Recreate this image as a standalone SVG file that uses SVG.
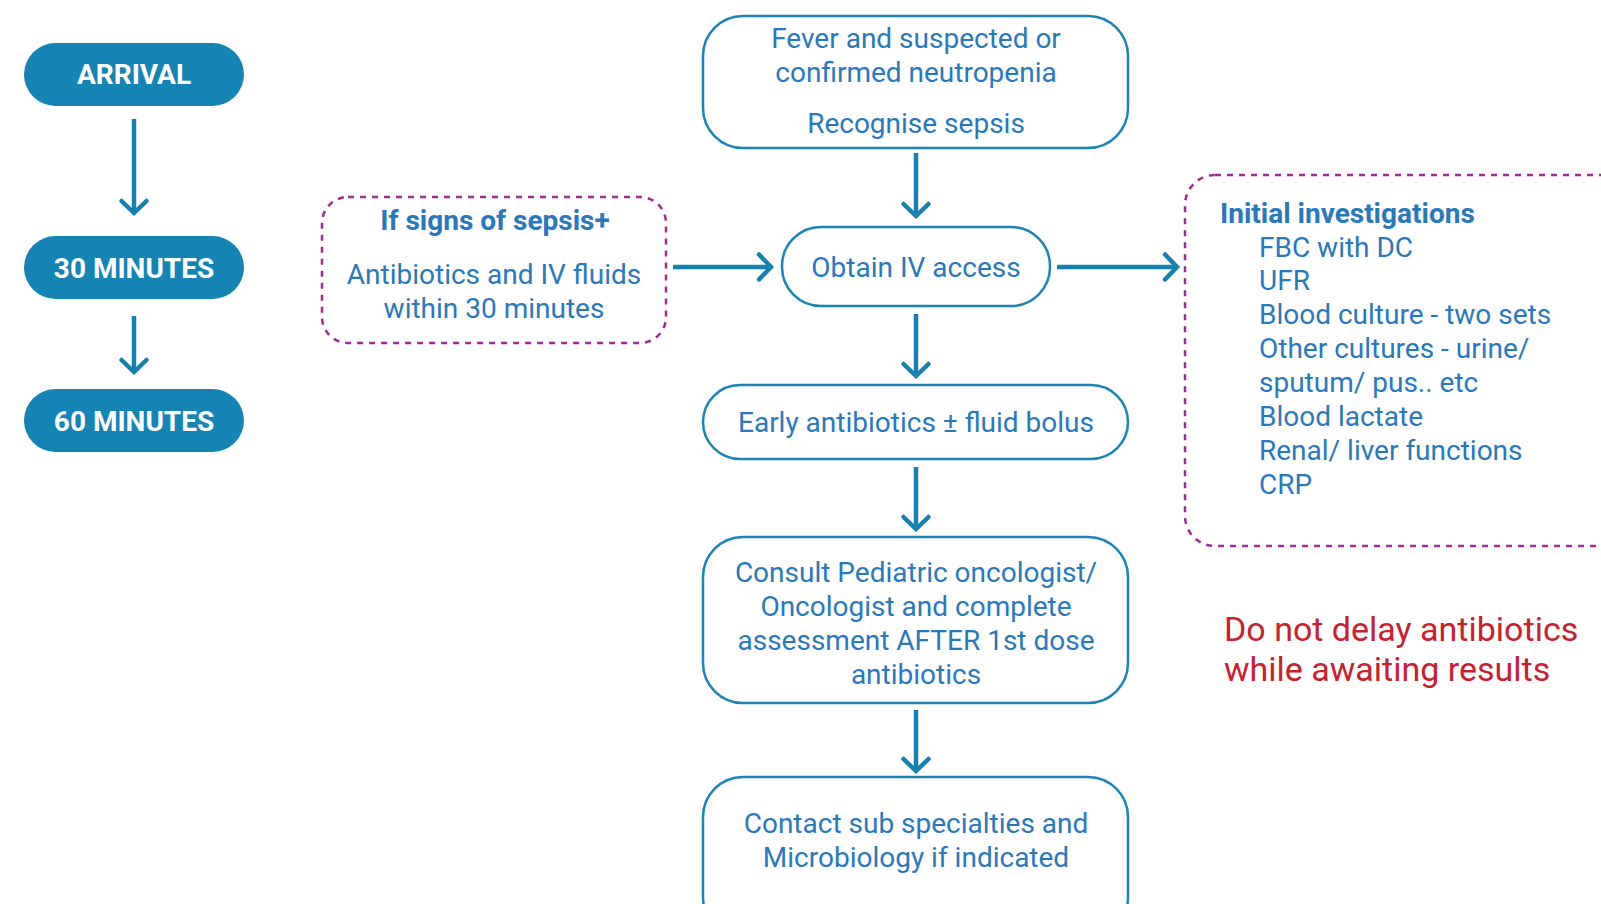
<svg xmlns="http://www.w3.org/2000/svg" width="1601" height="904" viewBox="0 0 1601 904">
<defs>
<style>
.pill{fill:#1384b4}
.pt{font-family:Roboto,"Liberation Sans",sans-serif;font-weight:bold;font-size:28px;fill:#fff;text-anchor:middle}
.box{fill:#fff;stroke:#1a85b5;stroke-width:2.5}
.dash{fill:#fff;stroke:#9b2d92;stroke-width:2.5;stroke-dasharray:6 6}
.t{font-family:Roboto,"Liberation Sans",sans-serif;font-size:28px;fill:#2878be}
.c{text-anchor:middle}
.b{font-weight:bold}
.red{font-family:Roboto,"Liberation Sans",sans-serif;font-size:34px;fill:#c8202f}
.ln{stroke:#1481b0;stroke-width:4.5;fill:none}
</style>
<marker id="ah" viewBox="-16 -16 32 32" refX="0" refY="0" markerWidth="32" markerHeight="32" markerUnits="userSpaceOnUse" orient="auto" overflow="visible">
<path d="M-12,-12.5 L0,0 L-12,12.5" fill="none" stroke="#1481b0" stroke-width="4.5" stroke-linecap="round"/>
</marker>
</defs>
<rect width="1601" height="904" fill="#fff"/>
<g id="connectors">
<path class="ln" d="M134,119 V213" marker-end="url(#ah)"/>
<path class="ln" d="M134,316 V372" marker-end="url(#ah)"/>
<path class="ln" d="M916,153 V216" marker-end="url(#ah)"/>
<path class="ln" d="M673,267 H771" marker-end="url(#ah)"/>
<path class="ln" d="M1057,267 H1177" marker-end="url(#ah)"/>
<path class="ln" d="M916,314 V376" marker-end="url(#ah)"/>
<path class="ln" d="M916,467 V529" marker-end="url(#ah)"/>
<path class="ln" d="M916,710 V771" marker-end="url(#ah)"/>
</g>
<g id="arrival"><rect class="pill" x="24" y="43" width="220" height="63" rx="31.5"/><text class="pt" x="134" y="84">ARRIVAL</text></g>
<g id="min30"><rect class="pill" x="24" y="236" width="220" height="63" rx="31.5"/><text class="pt" x="134" y="278">30 MINUTES</text></g>
<g id="min60"><rect class="pill" x="24" y="389" width="220" height="63" rx="31.5"/><text class="pt" x="134" y="431">60 MINUTES</text></g>
<g id="sepsis-plus"><rect class="dash" x="322" y="197" width="344" height="146" rx="26"/>
<text class="t c b" x="495" y="230">If signs of sepsis+</text>
<text class="t c" x="494" y="284">Antibiotics and IV fluids</text>
<text class="t c" x="494" y="318">within 30 minutes</text></g>
<g id="fever"><rect class="box" x="703" y="16" width="425" height="132" rx="40"/>
<text class="t c" x="916" y="48">Fever and suspected or</text>
<text class="t c" x="916" y="82">confirmed neutropenia</text>
<text class="t c" x="916" y="133">Recognise sepsis</text></g>
<g id="iv"><rect class="box" x="782" y="227" width="268" height="79" rx="39"/>
<text class="t c" x="916" y="277">Obtain IV access</text></g>
<g id="early"><rect class="box" x="703" y="385" width="425" height="74" rx="37"/>
<text class="t c" x="916" y="432">Early antibiotics ± fluid bolus</text></g>
<g id="consult"><rect class="box" x="703" y="537" width="425" height="166" rx="40"/>
<text class="t c" x="916" y="582">Consult Pediatric oncologist/</text>
<text class="t c" x="916" y="616">Oncologist and complete</text>
<text class="t c" x="916" y="650">assessment AFTER 1st dose</text>
<text class="t c" x="916" y="684">antibiotics</text></g>
<g id="contact"><rect class="box" x="703" y="777" width="425" height="160" rx="40"/>
<text class="t c" x="916" y="833">Contact sub specialties and</text>
<text class="t c" x="916" y="867">Microbiology if indicated</text></g>
<g id="investigations"><rect class="dash" x="1185" y="175" width="450" height="371" rx="30"/>
<text class="t b" x="1220" y="223">Initial investigations</text>
<text class="t" x="1259" y="257">FBC with DC</text>
<text class="t" x="1259" y="290">UFR</text>
<text class="t" x="1259" y="324">Blood culture - two sets</text>
<text class="t" x="1259" y="358">Other cultures - urine/</text>
<text class="t" x="1259" y="392">sputum/ pus.. etc</text>
<text class="t" x="1259" y="426">Blood lactate</text>
<text class="t" x="1259" y="460">Renal/ liver functions</text>
<text class="t" x="1259" y="494">CRP</text></g>
<g id="warning"><text class="red" x="1224" y="641">Do not delay antibiotics</text>
<text class="red" x="1224" y="681">while awaiting results</text></g>
</svg>
